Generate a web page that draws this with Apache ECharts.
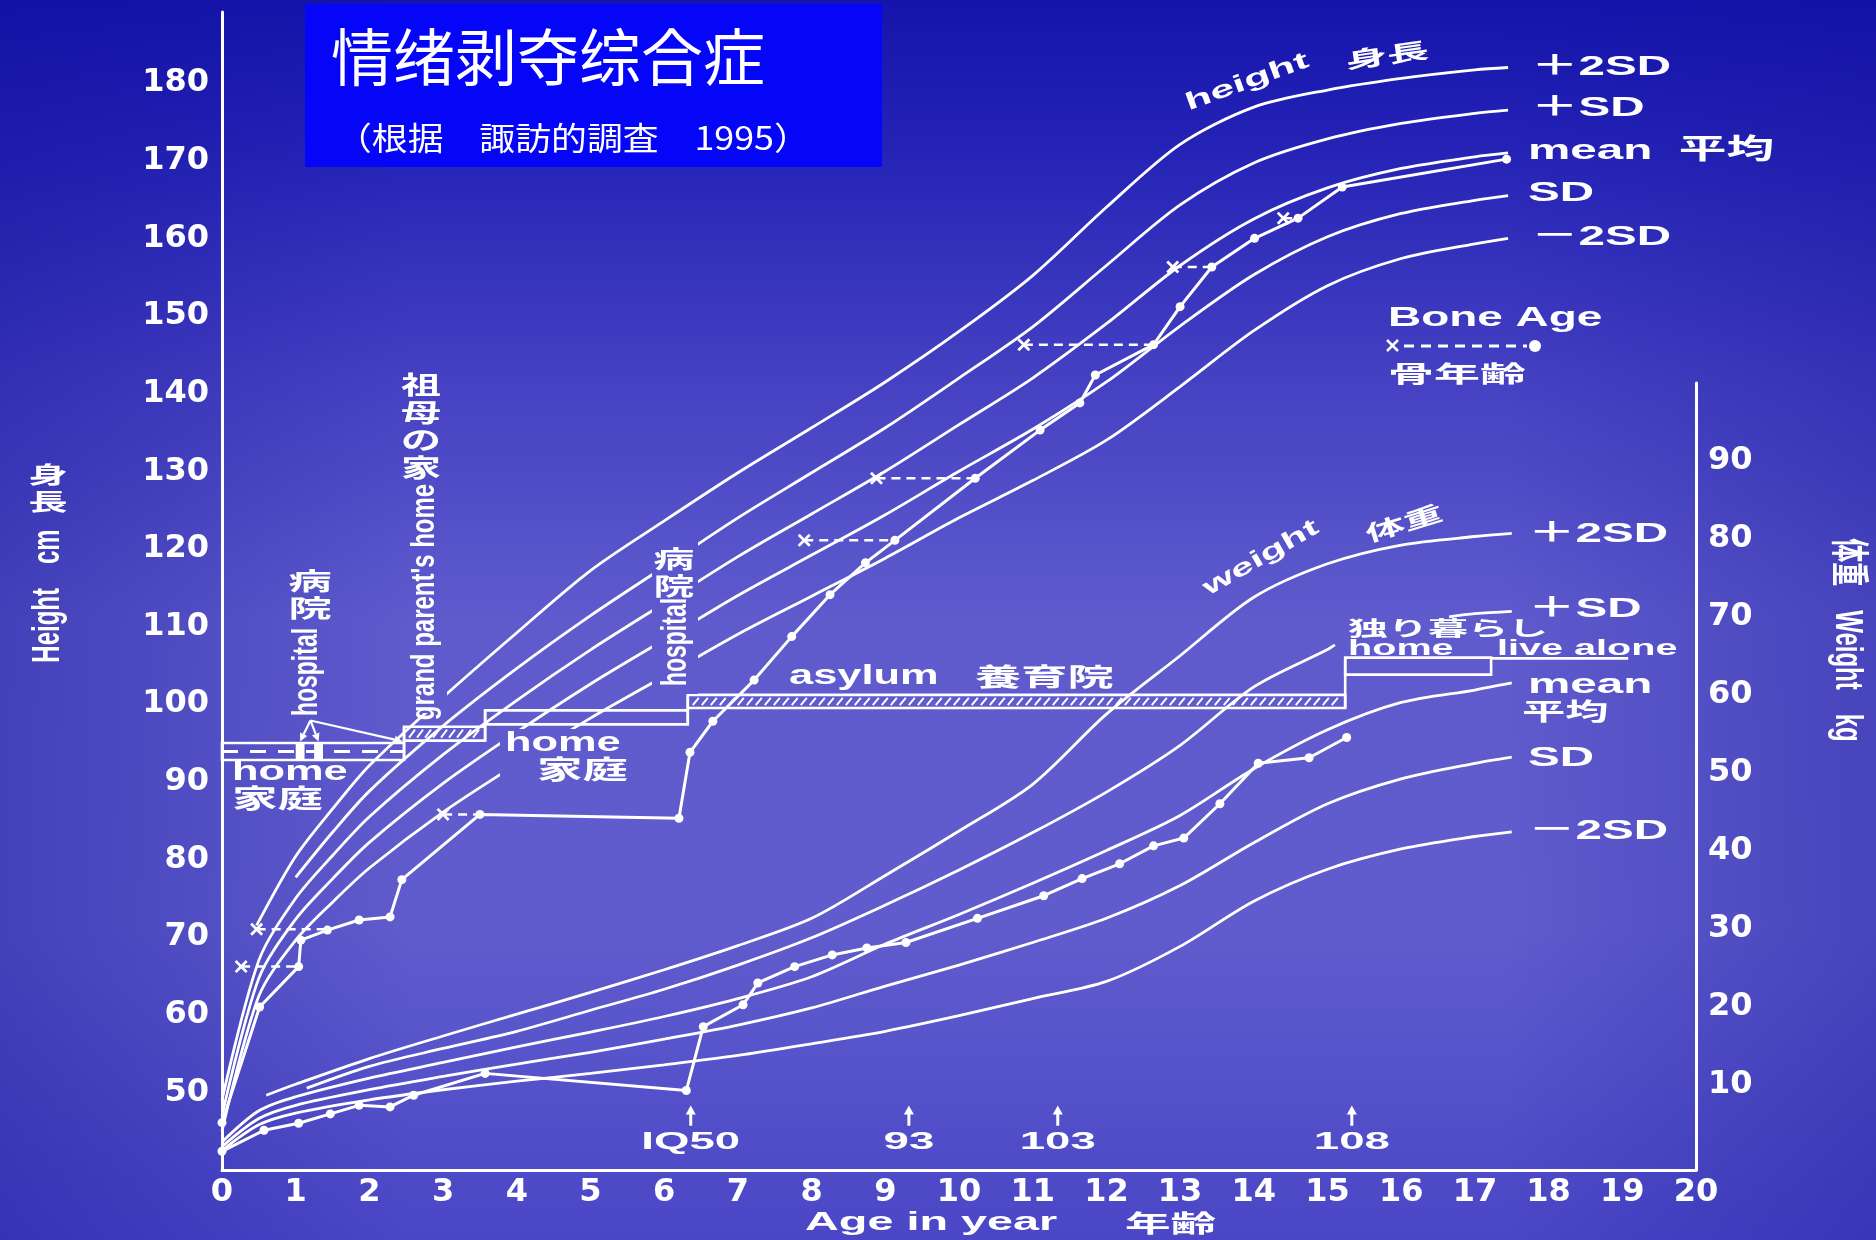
<!DOCTYPE html>
<html>
<head>
<meta charset="utf-8">
<title>情绪剥夺综合症</title>
<script src="https://cdn.jsdelivr.net/npm/echarts@6.0.0/dist/echarts.min.js"></script>
<style>
html,body{margin:0;padding:0;background:#3b38c0;overflow:hidden;}
#chart{width:1876px;height:1240px;}
</style>
</head>
<body>
<div id="chart"></div>
<script>
// ---------------- data ----------------
const xTicks = [0,1,2,3,4,5,6,7,8,9,10,11,12,13,14,15,16,17,18,19,20];
const heightTicks = [50,60,70,80,90,100,110,120,130,140,150,160,170,180];
const weightTicks = [10,20,30,40,50,60,70,80,90];

// height reference curves (cm)
const hAge    = [0,0.5,1,1.5,2,3,4,5,6,7,8,9,10,11,12,13,14,15,16,17,17.45];
const hMean   = [49,67,75,80.5,85.5,93.5,100.5,107,113,119,124.5,130,136,142,149,156.5,162.5,166.5,169,170.5,171];
const hMinus1 = [47,64.7,72.3,77.5,82.2,89.8,96.4,102.6,108.3,114,119.2,124.4,130,135.4,141.5,148.7,155.3,160.2,163.2,164.9,165.5];
const hMinus2 = [45,62.4,69.6,74.5,78.9,86.1,92.3,98.2,103.6,109,113.9,118.8,124,128.8,134,140.9,148.1,153.9,157.4,159.3,160];
const hPlus1Age = [1,1.5,2,3,4,5,6,7,8,9,10,11,12,13,14,15,16,17,17.45];
const hPlus1    = [77.7,83.5,88.8,97.2,104.6,111.4,117.7,124,129.8,135.6,142,148.6,156.5,164.3,169.7,172.8,174.8,176.1,176.5];
const hPlus2Age = [0.47,1,1.5,2,3,4,5,6,7,8,9,10,11,12,13,14,15,16,17,17.45];
const hPlus2    = [71.5,80.4,86.5,92.1,100.9,109.2,117.2,123.6,129.8,135.6,141.5,148,155.2,164,172.1,176.9,179.1,180.6,181.7,182];

// weight reference curves (kg)
const wAge    = [0,0.5,1,2,3,4,5,6,7,8,9,10,11,12,13,14,15,16,17,17.5];
const wMean   = [2.6,6.6,8.4,10.8,12.8,14.8,16.7,18.7,21.0,23.8,28.0,31.8,35.8,40.0,44.5,50.5,55.5,59.0,60.6,61.5];
const wMinus1 = [2.0,5.6,7.3,9.3,11.0,12.6,14.1,15.8,17.6,19.8,22.6,25.3,28.2,31.3,35.5,41.0,46.0,49.2,51.2,52.0];
const wMinus2 = [1.5,4.8,6.3,8.0,9.3,10.4,11.4,12.5,13.7,15.2,16.8,18.8,21.0,23.2,27.7,33.5,37.6,40.2,41.8,42.4];
const wPlus1Age = [1.15,2,3,4,5,6,7,8,9,10,11,12,13,14,15,15.1,15.8,16.65,17,17.5];
const wPlus1    = [9.5,12.3,14.6,16.8,19.5,22.2,25.3,28.8,33.0,37.5,42.3,47.5,53.5,61.0,65.8,66.4,null,70.0,70.4,70.7];
const wPlus2Age = [0.6,1,2,3,4,5,6,7,8,9,10,11,12,13,14,15,16,17,17.5];
const wPlus2    = [8.6,10.0,13.3,16.2,19.0,21.8,24.7,27.8,31.3,36.8,42.5,48.5,57.5,65.0,72.5,76.8,79.2,80.3,80.7];

// patient
const pHAge = [0,0.51,1.04,1.07,1.43,1.86,2.28,2.44,3.5,6.2,6.35,6.66,7.22,7.73,8.25,8.73,9.13,10.22,11.1,11.64,11.85,12.64,13.0,13.43,14.01,14.6,15.2,17.43];
const pH    = [46.1,61.0,66.2,69.6,70.9,72.2,72.6,77.4,85.8,85.3,93.8,97.8,103.1,108.7,114.1,118.2,121.1,129.1,135.3,138.8,142.4,146.3,151.2,156.3,160.0,162.6,166.6,170.2];
const pWAge = [0,0.57,1.04,1.47,1.86,2.28,2.6,3.57,6.3,6.53,7.07,7.27,7.77,8.28,8.75,9.28,10.25,11.15,11.67,12.18,12.64,13.05,13.54,14.06,14.75,15.26];
const pW    = [1.4,4.1,5.0,6.2,7.3,7.1,8.6,11.4,9.2,17.4,20.2,23.0,25.1,26.6,27.5,28.2,31.3,34.2,36.4,38.3,40.6,41.6,46.0,51.2,51.9,54.5];

// bone age (x) vs chronological age (dot) at the same height
const boneAge    = [0.26,0.47,3.0,7.9,8.88,10.88,12.9,14.4];
const boneChrono = [1.04,1.43,3.5,9.13,10.22,12.64,13.43,14.6];
const boneH      = [66.2,71.0,85.8,121.1,129.1,146.3,156.3,162.6];

// IQ measurements
const iqAge   = [6.36,9.32,11.34,15.33];
const iqLabel = ['IQ50','93','103','108'];

// places of living
const resStart = [0,2.47,3.57,6.32,15.24,17.22];
const resEnd   = [2.47,3.57,6.32,15.24,17.22,19.08];
const resKind  = ['home','grandparent','home','asylum','home','alone'];
const hospStart = [1.0,1.25];
const hospEnd   = [1.12,1.37];
const hospArrowTo = [1.06,1.31,2.45];

// ---------------- styling helpers ----------------
const WHITE = '#ffffff';
const LAT = '"Liberation Sans", Arial, sans-serif';
const MIX = '"Liberation Sans", "Noto Sans CJK JP", sans-serif';
const CJK = '"Noto Sans CJK JP", "Noto Sans CJK SC", sans-serif';
const AXF = '"DejaVu Sans", sans-serif';

const BG_V = {type:'linear', x:0, y:0, x2:0, y2:1240, global:true, colorStops:[
  {offset:0, color:'#1414ac'},{offset:0.12, color:'#2523b6'},{offset:0.3, color:'#4440c2'},
  {offset:0.5, color:'#5f5bcd'},{offset:0.75, color:'#605ccd'},{offset:1, color:'#4a46c6'}]};
const BG_H = {type:'linear', x:0, y:0, x2:1876, y2:0, global:true, colorStops:[
  {offset:0, color:'rgba(15,15,150,0.35)'},{offset:0.22, color:'rgba(15,15,150,0)'},
  {offset:0.8, color:'rgba(15,15,150,0)'},{offset:1, color:'rgba(15,15,150,0.3)'}]};

function bgRect(x, y, w, h, z) {
  return [
    {type:'rect', z:z, silent:true, shape:{x:x, y:y, width:w, height:h}, style:{fill:BG_V}},
    {type:'rect', z:z, silent:true, shape:{x:x, y:y, width:w, height:h}, style:{fill:BG_H}}
  ];
}

function txt(text, x, y, o) {
  o = o || {};
  const st = {text:text, fill:WHITE,
    font:(o.w || 'bold') + ' ' + (o.size || 28) + 'px ' + (o.fam || MIX),
    textAlign:o.align || 'left', align:o.align || 'left',
    textVerticalAlign:'middle', verticalAlign:'middle'};
  if (o.lh) st.lineHeight = o.lh;
  return {type:'text', x:x, y:y, z:o.z || 20, rotation:o.rot || 0,
    scaleX:o.sx || 1, scaleY:o.sy || 1, silent:true, style:st};
}
const D = Math.PI / 180;

// ---------------- graphic (background, masks, text) ----------------
let G = [];
G = G.concat(bgRect(0, 0, 1876, 1240, -10));
// masks behind labels that interrupt the curves
G = G.concat(bgRect(400, 370, 47, 343, 10));
G = G.concat(bgRect(652, 540, 46, 154, 10));
G = G.concat(bgRect(500, 729, 135, 57, 10));

// title box
G.push({type:'rect', z:20, silent:true, shape:{x:305, y:4, width:577, height:163}, style:{fill:'#0505f8'}});
G.push(txt('情绪剥夺综合症', 331, 57, {size:62, w:'normal', fam:CJK, z:21}));
G.push(txt('（根据　諏訪的調査　1995）', 336, 138, {size:32, w:'normal', fam:CJK, z:21, sx:1.12}));

// axis titles
G.push(txt('身\n長', 48, 488, {size:23, fam:CJK, align:'center', lh:27, sx:1.7}));
G.push(txt('Height　cm', 48, 596, {size:24, align:'center', rot:90*D, sy:1.6}));
G.push(txt('体重　Weight　kg', 1847, 640, {size:24, align:'center', rot:-90*D, sy:1.6}));
G.push(txt('Age in year', 805, 1223, {size:26, sx:1.8}));
G.push(txt('年齢', 1125, 1223, {size:24, fam:CJK, sx:1.9}));

// height curve labels
G.push(txt('＋2SD', 1531, 67, {size:28, sx:1.7}));
G.push(txt('＋SD', 1531, 108, {size:28, sx:1.7}));
G.push(txt('mean  平均', 1528, 151, {size:28, sx:1.7}));
G.push(txt('SD', 1528, 193, {size:28, sx:1.7}));
G.push(txt('－2SD', 1531, 237, {size:28, sx:1.7}));
G.push(txt('height', 1247, 82, {size:24, align:'center', rot:20*D, sx:1.8}));
G.push(txt('身長', 1387, 55, {size:22, fam:CJK, align:'center', rot:8*D, sx:1.9}));

// weight curve labels
G.push(txt('＋2SD', 1528, 534, {size:28, sx:1.7}));
G.push(txt('＋SD', 1528, 609, {size:28, sx:1.7}));
G.push(txt('mean', 1528, 685, {size:28, sx:1.7}));
G.push(txt('平均', 1522, 711, {size:24, fam:CJK, sx:1.8}));
G.push(txt('SD', 1528, 758, {size:28, sx:1.7}));
G.push(txt('－2SD', 1528, 831, {size:28, sx:1.7}));
G.push(txt('weight', 1261, 558, {size:24, align:'center', rot:30*D, sx:1.7}));
G.push(txt('体重', 1404, 523, {size:22, fam:CJK, align:'center', rot:17*D, sx:1.8}));

// bone age legend
G.push(txt('Bone Age', 1388, 319, {size:27, sx:1.7}));
G.push({type:'polyline', z:20, silent:true, shape:{points:[[1387,340],[1398,351]]}, style:{stroke:WHITE, lineWidth:2.5}});
G.push({type:'polyline', z:20, silent:true, shape:{points:[[1398,340],[1387,351]]}, style:{stroke:WHITE, lineWidth:2.5}});
G.push({type:'line', z:20, silent:true, shape:{x1:1404, y1:346, x2:1527, y2:346}, style:{stroke:WHITE, lineWidth:3, lineDash:[10,7]}});
G.push({type:'circle', z:20, silent:true, shape:{cx:1535, cy:346, r:6}, style:{fill:WHITE}});
G.push(txt('骨年齢', 1388, 373, {size:23, fam:CJK, sx:2.0}));

// residence annotations
G.push(txt('祖\n母\nの\n家', 421, 426, {size:25, fam:CJK, align:'center', lh:27.5, sx:1.6}));
G.push(txt("grand parent's home", 425, 602, {size:24, align:'center', rot:90*D, sy:1.35}));
G.push(txt('病\n院', 310, 594, {size:24, fam:CJK, align:'center', lh:27, sx:1.8}));
G.push(txt('hospital', 307, 672, {size:23, align:'center', rot:90*D, sy:1.5}));
G.push(txt('病\n院', 674, 572, {size:24, fam:CJK, align:'center', lh:27, sx:1.7}));
G.push(txt('hospital', 676, 642, {size:23, align:'center', rot:90*D, sy:1.5}));
G.push(txt('home', 232, 772, {size:28, sx:1.55}));
G.push(txt('家庭', 232, 798, {size:26, fam:CJK, sx:1.75}));
G.push(txt('home', 505, 743, {size:28, sx:1.55}));
G.push(txt('家庭', 537, 769, {size:26, fam:CJK, sx:1.75}));
G.push(txt('asylum', 789, 676, {size:28, sx:1.55}));
G.push(txt('養育院', 975, 676, {size:25, fam:CJK, sx:1.85}));
G.push(txt('独り暮らし', 1348, 628, {size:20, fam:CJK, sx:2.0}));
G.push(txt('home', 1348, 649, {size:22, sx:1.8}));
G.push(txt('live alone', 1497, 649, {size:22, sx:1.8}));

// ---------------- series ----------------
function curve(ages, vals, gi) {
  return {type:'line', xAxisIndex:gi, yAxisIndex:gi, silent:true, z:2,
    data:ages.map((a, i) => [a, vals[i]]),
    smooth:0.3, showSymbol:false, symbol:'none', connectNulls:false,
    lineStyle:{color:WHITE, width:2.8}};
}
const series = [
  curve(hPlus2Age, hPlus2, 0), curve(hPlus1Age, hPlus1, 0), curve(hAge, hMean, 0),
  curve(hAge, hMinus1, 0), curve(hAge, hMinus2, 0),
  curve(wPlus2Age, wPlus2, 1), curve(wPlus1Age, wPlus1, 1), curve(wAge, wMean, 1),
  curve(wAge, wMinus1, 1), curve(wAge, wMinus2, 1),
  {type:'line', name:'patient height', xAxisIndex:0, yAxisIndex:0, z:3, silent:true,
    data:pHAge.map((a, i) => [a, pH[i]]), symbol:'circle', symbolSize:9, showSymbol:true,
    itemStyle:{color:WHITE}, lineStyle:{color:WHITE, width:3}},
  {type:'line', name:'patient weight', xAxisIndex:1, yAxisIndex:1, z:3, silent:true,
    data:pWAge.map((a, i) => [a, pW[i]]), symbol:'circle', symbolSize:9, showSymbol:true,
    itemStyle:{color:WHITE}, lineStyle:{color:WHITE, width:3}}
];
const XPATH = 'path://M0,1.5L1.5,0L5,3.5L8.5,0L10,1.5L6.5,5L10,8.5L8.5,10L5,6.5L1.5,10L0,8.5L3.5,5Z';
boneAge.forEach((b, i) => {
  series.push({type:'line', xAxisIndex:0, yAxisIndex:0, z:3, silent:true,
    data:[{value:[b, boneH[i]], symbol:XPATH, symbolSize:13},
          {value:[boneChrono[i], boneH[i]], symbol:'none'}],
    itemStyle:{color:WHITE}, lineStyle:{color:WHITE, width:2.5, type:[9,6]}});
});

const LV = [[92.8,95.0],[95.3,97.1],[97.4,99.2],[99.5,101.2],[103.8,106.0],[105.9,105.9]];
const ST = {stroke:WHITE, lineWidth:2.6, fill:'none'};
series.push({type:'custom', xAxisIndex:0, yAxisIndex:0, z:4, silent:true, clip:false,
  data:resStart.map((s, i) => [s, resEnd[i]]), encode:{x:[0,1]},
  renderItem:function (params, api) {
    const i = params.dataIndex;
    const s = api.value(0), e = api.value(1);
    const a = api.coord([s, LV[i][1]]), b = api.coord([e, LV[i][0]]);
    const x0 = a[0], y0 = a[1], x1 = b[0], y1 = b[1];
    const ch = [];
    if (resKind[i] === 'alone') {
      ch.push({type:'line', shape:{x1:x0, y1:y0, x2:x1, y2:y0}, style:ST});
    } else {
      ch.push({type:'rect', shape:{x:x0, y:y0, width:x1 - x0, height:y1 - y0}, style:ST});
    }
    if (resKind[i] === 'asylum' || resKind[i] === 'grandparent') {
      const step = resKind[i] === 'asylum' ? 9 : 8;
      for (let x = x0 + 5; x < x1 - 7; x += step) {
        ch.push({type:'line', shape:{x1:x, y1:y1 - 3, x2:x + 6, y2:y0 + 3}, style:{stroke:WHITE, lineWidth:2}});
      }
    }
    if (i === 0) {
      const ym = (y0 + y1) / 2;
      ch.push({type:'line', shape:{x1:x0, y1:ym, x2:x1, y2:ym}, style:{stroke:WHITE, lineWidth:3, lineDash:[16,12]}});
    }
    if (i > 0 && resKind[i] !== 'alone') {
      const pb = api.coord([s, LV[i - 1][0]]);
      ch.push({type:'line', shape:{x1:x0, y1:y0, x2:x0, y2:pb[1]}, style:ST});
    }
    return {type:'group', children:ch};
  }});
series.push({type:'custom', xAxisIndex:0, yAxisIndex:0, z:4, silent:true, clip:false,
  data:hospStart.map((s, i) => [s, hospEnd[i]]), encode:{x:[0,1]},
  renderItem:function (params, api) {
    const a = api.coord([api.value(0), LV[0][1]]), b = api.coord([api.value(1), LV[0][0]]);
    return {type:'rect', shape:{x:a[0], y:a[1], width:b[0] - a[0], height:b[1] - a[1]}, style:{fill:WHITE}};
  }});
series.push({type:'custom', xAxisIndex:0, yAxisIndex:0, z:4, silent:true, clip:false,
  data:hospArrowTo.map(t => [t]), encode:{x:0},
  renderItem:function (params, api) {
    const p0 = api.coord([1.2, 97.9]);
    const p1 = api.coord([api.value(0), LV[0][1] + 0.2]);
    const dx = p1[0] - p0[0], dy = p1[1] - p0[1], L = Math.sqrt(dx * dx + dy * dy);
    const ux = dx / L, uy = dy / L;
    const hx = p1[0] - ux * 8, hy = p1[1] - uy * 8;
    return {type:'group', children:[
      {type:'line', shape:{x1:p0[0], y1:p0[1], x2:hx, y2:hy}, style:{stroke:WHITE, lineWidth:2.2}},
      {type:'polygon', shape:{points:[[p1[0], p1[1]], [hx - uy * 4, hy + ux * 4], [hx + uy * 4, hy - ux * 4]]}, style:{fill:WHITE}}
    ]};
  }});
series.push({type:'custom', xAxisIndex:0, yAxisIndex:0, z:4, silent:true, clip:false,
  data:iqAge.map(a => [a]), encode:{x:0},
  renderItem:function (params, api) {
    const a = api.value(0);
    const p0 = api.coord([a, 45.7]), p1 = api.coord([a, 48.3]);
    return {type:'group', children:[
      {type:'line', shape:{x1:p0[0], y1:p0[1], x2:p1[0], y2:p1[1] + 6}, style:{stroke:WHITE, lineWidth:3}},
      {type:'polygon', shape:{points:[[p1[0], p1[1]], [p1[0] - 5, p1[1] + 9], [p1[0] + 5, p1[1] + 9]]}, style:{fill:WHITE}},
      {type:'text', x:p0[0], y:p0[1] + 17, scaleX:1.9, style:{text:iqLabel[params.dataIndex], fill:WHITE,
        font:'bold 24px ' + LAT, textAlign:'center', align:'center', textVerticalAlign:'middle', verticalAlign:'middle'}}
    ]};
  }});

const axisLbl = {color:WHITE, fontFamily:AXF, fontWeight:'bold', fontSize:32};
const option = {
  animation:false,
  backgroundColor:'transparent',
  grid:[{left:222, right:180, top:12, bottom:70}, {left:222, right:180, top:383, bottom:70}],
  xAxis:[
    {gridIndex:0, type:'value', min:0, max:20, interval:1,
      axisLine:{show:true, onZero:false, lineStyle:{color:WHITE, width:3}},
      axisTick:{show:false}, splitLine:{show:false},
      axisLabel:Object.assign({margin:7, formatter:v => xTicks.includes(v) ? String(v) : ''}, axisLbl)},
    {gridIndex:1, type:'value', min:0, max:20, show:false}
  ],
  yAxis:[
    {gridIndex:0, type:'value', min:40, max:189.15, interval:10, position:'left',
      axisLine:{show:true, onZero:false, lineStyle:{color:WHITE, width:3}},
      axisTick:{show:false}, splitLine:{show:false},
      axisLabel:Object.assign({margin:13, formatter:v => heightTicks.includes(v) ? String(v) : ''}, axisLbl)},
    {gridIndex:1, type:'value', min:-1, max:100, position:'right',
      axisLine:{show:true, onZero:false, lineStyle:{color:WHITE, width:3}},
      axisTick:{show:false}, splitLine:{show:false},
      axisLabel:Object.assign({margin:12, customValues:weightTicks}, axisLbl)}
  ],
  graphic:{elements:G},
  series:series
};
const chart = echarts.init(document.getElementById('chart'));
chart.setOption(option);
</script>
</body>
</html>
